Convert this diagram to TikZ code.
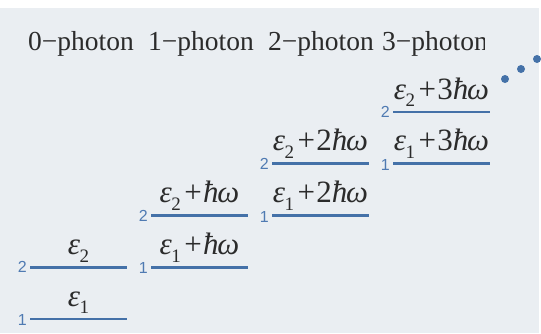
\documentclass[tikz,border=0pt]{standalone}
\usepackage{fontspec}
\usetikzlibrary{calc}
\setmainfont{Liberation Serif}
\setsansfont{Liberation Sans}
\definecolor{bgc}{HTML}{EAEEF2}
\definecolor{levc}{HTML}{4471A8}
\definecolor{numc}{HTML}{4F7AB2}
\definecolor{txtc}{HTML}{2B2B2B}
\newcommand{\eps}[1]{{\itshape ε}\kern-0.02em\raisebox{-0.25em}{\fontsize{19}{19}\selectfont #1}}
\newcommand{\hw}[1]{#1{\itshape ħ\kern-0.04emω}}
\newcommand{\pl}{\kern0.12em+\kern0.04em}
\begin{document}
\begin{tikzpicture}[x=1pt,y=-1pt,
  level/.style={draw=levc,line width=2.6pt},
  idx/.style={font=\sffamily\fontsize{16}{16}\selectfont,text=numc,anchor=east,inner sep=0pt},
  elab/.style={font=\fontsize{31}{31}\selectfont,text=txtc,anchor=base,inner sep=0pt},
  head/.style={font=\fontsize{27.5}{27.5}\selectfont,text=txtc,anchor=base west,inner sep=0pt},
  dotc/.style={fill=levc,draw=none,circle,minimum size=8pt,inner sep=0pt}]
\useasboundingbox (0,0) rectangle (541,333);
\fill[white] (0,0) rectangle (541,333);
\fill[bgc] (0,8) rectangle (539,333);
% header
\begin{scope}
\clip (0,0) rectangle (484,333);
\node[head] (h0) at (28,50) {0−photon};
\node[head] (h1) at (148,50) {1−photon};
\node[head] (h2) at (268,50) {2−photon};
\node[head] (h3) at (382,50) {3−photon};
\end{scope}
% levels
\foreach \i/\lo/\hi in {0/319/267.25,1/267.25/215.5,2/215.5/163.75,3/163.75/112}{
  \pgfmathsetmacro{\xa}{30+121*\i}
  \pgfmathsetmacro{\xb}{\xa+97}
  \coordinate (a\i l) at (\xa,\lo);
  \coordinate (b\i l) at (\xb,\lo);
  \coordinate (a\i u) at (\xa,\hi);
  \coordinate (b\i u) at (\xb,\hi);
  \draw[level] (a\i l) -- (b\i l);
  \draw[level] (a\i u) -- (b\i u);
  \node[idx] (n\i l) at ([xshift=-3pt,yshift=-1pt]a\i l) {1};
  \node[idx] (n\i u) at ([xshift=-3pt,yshift=0pt]a\i u) {2};
}
\node[elab] (e0l) at ([yshift=13pt]$(a0l)!0.5!(b0l)$) {\eps{1}};
\node[elab] (e0u) at ([yshift=13pt]$(a0u)!0.5!(b0u)$) {\eps{2}};
\node[elab] (e1l) at ([yshift=13pt]$(a1l)!0.5!(b1l)$) {\eps{1}\pl\hw{}};
\node[elab] (e1u) at ([yshift=13pt]$(a1u)!0.5!(b1u)$) {\eps{2}\pl\hw{}};
\node[elab] (e2l) at ([yshift=13pt]$(a2l)!0.5!(b2l)$) {\eps{1}\pl\hw{2}};
\node[elab] (e2u) at ([yshift=13pt]$(a2u)!0.5!(b2u)$) {\eps{2}\pl\hw{2}};
\node[elab] (e3l) at ([yshift=13pt]$(a3l)!0.5!(b3l)$) {\eps{1}\pl\hw{3}};
\node[elab] (e3u) at ([yshift=13pt]$(a3u)!0.5!(b3u)$) {\eps{2}\pl\hw{3}};
% dots
\node[dotc] (d1) at (505,79) {};
\node[dotc] (d2) at (521,69) {};
\node[dotc] (d3) at (537,59) {};
\end{tikzpicture}
\end{document}
